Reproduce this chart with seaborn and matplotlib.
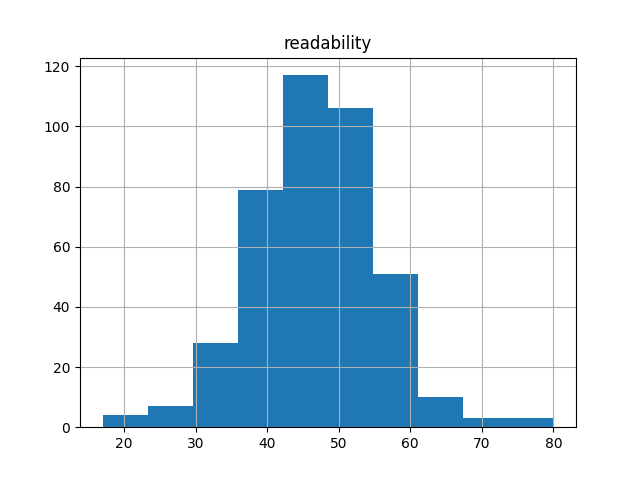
import numpy as np
import pandas as pd
import seaborn as sns
import matplotlib.pyplot as plt

# histogram of readability scores, 10 equal bins from 17 to 80
bin_edges = np.linspace(17, 80, 11)
counts = [4, 7, 28, 79, 117, 106, 51, 10, 3, 3]
bin_centers = (bin_edges[:-1] + bin_edges[1:]) / 2

df = pd.DataFrame({'readability': bin_centers, 'count': counts})

fig, ax = plt.subplots(figsize=(6.4, 4.8), dpi=100)
sns.histplot(data=df, x='readability', weights='count', bins=list(bin_edges),
             ax=ax, color='#1f77b4', alpha=1, linewidth=0, edgecolor='none')
ax.grid(True)
ax.set_title('readability')
ax.set_xlabel('')
ax.set_ylabel('')

plt.savefig('out.png')
